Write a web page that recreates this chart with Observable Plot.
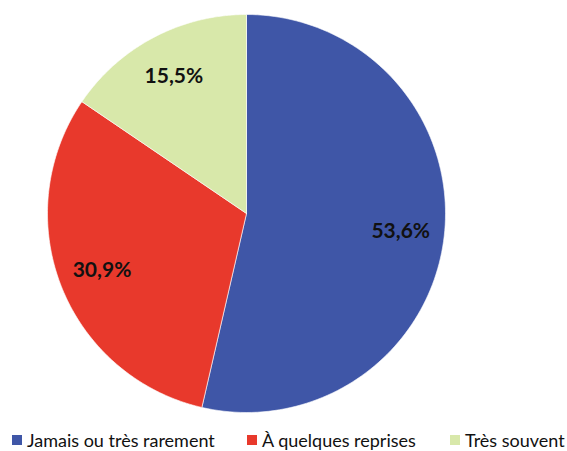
<!DOCTYPE html>
<html><head><meta charset="utf-8">
<script src="https://cdn.jsdelivr.net/npm/d3@7"></script>
<script src="https://cdn.jsdelivr.net/npm/@observablehq/plot@0.6"></script>
<style>
body{margin:0;background:#fff;font-family:Lato,"Open Sans",sans-serif;}
#wrap{position:relative;width:567px;height:451px;}
#legend{position:absolute;top:429px;left:0;width:567px;height:22px;font-size:18px;color:#111;}
.item{position:absolute;top:0;display:flex;align-items:center;white-space:nowrap;}
.sw{width:10px;height:10px;margin-right:5px;}
</style></head><body>
<div id="wrap"><div id="chart"></div><div id="legend"></div></div>
<script>
const categories = ["Jamais ou très rarement", "À quelques reprises", "Très souvent"];
const values = [53.6, 30.9, 15.5];
const labels = ["53,6%", "30,9%", "15,5%"];
const colors = ["#3F56A7", "#E8392C", "#D8E8AA"];

const W = 567, H = 426, cx = 246, cy = 213, R = 199;
const pie = d3.pie().sort(null).value(d => d.value)(categories.map((c, i) => ({cat: c, value: values[i], label: labels[i]})));

const pts = [];
pie.forEach(p => {
  pts.push({cat: p.data.cat, x: 0, y: 0});
  const n = 120;
  for (let k = 0; k <= n; k++) {
    const a = p.startAngle + (p.endAngle - p.startAngle) * k / n;
    pts.push({cat: p.data.cat, x: Math.sin(a), y: Math.cos(a)});
  }
  pts.push({cat: p.data.cat, x: 0, y: 0});
});
const lab = pie.map(p => {
  const a = (p.startAngle + p.endAngle) / 2, r = 0.78;
  return {text: p.data.label, x: r * Math.sin(a), y: r * Math.cos(a)};
});

const chart = Plot.plot({
  width: W, height: H, margin: 0,
  x: {domain: [-cx / R, (W - cx) / R], axis: null},
  y: {domain: [-(H - cy) / R, cy / R], axis: null},
  color: {domain: categories, range: colors},
  style: {background: "transparent"},
  marks: [
    Plot.line(pts, {x: "x", y: "y", z: "cat", fill: "cat", stroke: "#ffffff", strokeOpacity: 0.6, strokeWidth: 1, curve: "linear",
      style: "filter:drop-shadow(0px 3px 3px rgba(0,0,0,0.35))"}),
    Plot.text(lab, {x: "x", y: "y", text: "text", fontSize: 21, fontWeight: "bold", fill: "#111", fontFamily: "Lato, 'Open Sans', sans-serif"})
  ]
});
document.getElementById("chart").appendChild(chart);

const lefts = [12, 247, 450];
const leg = document.getElementById("legend");
categories.forEach((c, i) => {
  const d = document.createElement("div");
  d.className = "item";
  d.style.left = lefts[i] + "px";
  d.innerHTML = `<span class="sw" style="background:${colors[i]}"></span><span>${c}</span>`;
  leg.appendChild(d);
});
</script></body></html>
